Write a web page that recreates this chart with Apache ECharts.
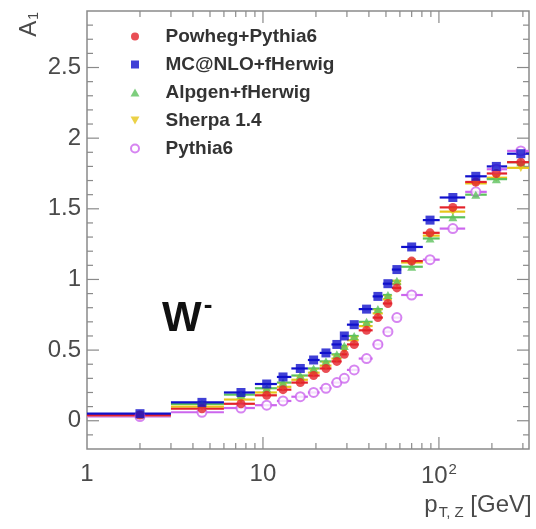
<!DOCTYPE html>
<html><head><meta charset="utf-8">
<script src="https://cdn.jsdelivr.net/npm/echarts@6/dist/echarts.min.js"></script>
<style>html,body{margin:0;padding:0;background:#fff}#c{width:536px;height:529px}</style>
</head><body><div id="c"></div>
<script>
// bins in pT [GeV]
const binLo     = [1, 3, 6, 9, 12, 14.5, 18, 21, 24.5, 28, 30, 35, 42, 48, 54, 61, 81, 101, 141, 187, 244];
const binHi     = [3, 6, 9, 12, 14.5, 18, 21, 24.5, 28, 30, 35, 42, 48, 54, 61, 81, 101, 141, 187, 244, 340];
const binCenter = [2, 4.5, 7.5, 10.5, 13, 16.3, 19.4, 22.8, 26.3, 29, 33, 38.8, 45, 51.3, 57.7, 70, 89, 120, 162, 212, 292];

// A1 values per generator
const powheg = [0.04, 0.085, 0.12, 0.18, 0.22, 0.27, 0.32, 0.37, 0.42, 0.47, 0.54, 0.64, 0.73, 0.83, 0.94, 1.13, 1.33, 1.51, 1.69, 1.75, 1.83];
const mcnlo  = [0.05, 0.13, 0.20, 0.26, 0.31, 0.37, 0.43, 0.48, 0.54, 0.60, 0.68, 0.79, 0.88, 0.97, 1.07, 1.23, 1.42, 1.58, 1.73, 1.80, 1.89];
const alpgen = [0.045, 0.12, 0.185, 0.23, 0.27, 0.32, 0.37, 0.42, 0.47, 0.53, 0.60, 0.70, 0.79, 0.89, 0.99, 1.09, 1.29, 1.44, 1.60, 1.71, 1.83];
const sherpa = [0.04, 0.10, 0.15, 0.20, 0.24, 0.29, 0.34, 0.39, 0.44, 0.50, 0.57, 0.67, 0.76, 0.86, 0.97, 1.12, 1.31, 1.48, 1.68, 1.72, 1.79];
const pythia = [0.03, 0.06, 0.09, 0.11, 0.14, 0.17, 0.20, 0.23, 0.27, 0.30, 0.36, 0.44, 0.54, 0.63, 0.73, 0.89, 1.14, 1.36, 1.62, 1.78, 1.91];

const seriesNames = ['Powheg+Pythia6', 'MC@NLO+fHerwig', 'Alpgen+fHerwig', 'Sherpa 1.4', 'Pythia6'];

// tick labels / positions
const xLabelValues = [1, 10, 100];
const yLabelValues = [0, 0.5, 1, 1.5, 2, 2.5];
const xMajorTicks = [10, 100];
const xMinorTicks = [2, 3, 4, 5, 6, 7, 8, 9, 20, 30, 40, 50, 60, 70, 80, 90, 200, 300];
const yMajorTicks = [0, 0.5, 1, 1.5, 2, 2.5];
const yMinorTicks = [-0.1, 0.1, 0.2, 0.3, 0.4, 0.6, 0.7, 0.8, 0.9, 1.1, 1.2, 1.3, 1.4, 1.6, 1.7, 1.8, 1.9, 2.1, 2.2, 2.3, 2.4, 2.6, 2.7, 2.8];

const FONT = 'Liberation Sans, Arial, sans-serif';
const styles = {
  'Powheg+Pythia6': {color: '#e3222b', symbol: 'circle', size: 9},
  'MC@NLO+fHerwig': {color: '#1010cc', symbol: 'path://M0,0 L10,0 L10,10 L0,10 Z', size: 9},
  'Alpgen+fHerwig': {color: '#5cc25c', symbol: 'path://M5,0 L10,9 L0,9 Z', size: 9},
  'Sherpa 1.4':     {color: '#e6c619', symbol: 'path://M0,0 L10,0 L5,9 Z', size: 9},
  'Pythia6':        {color: '#cc66ee', symbol: 'emptyCircle', size: 9}
};
const valuesByName = {
  'Powheg+Pythia6': powheg, 'MC@NLO+fHerwig': mcnlo, 'Alpgen+fHerwig': alpgen,
  'Sherpa 1.4': sherpa, 'Pythia6': pythia
};
// draw order (last on top)
const drawOrder = ['Pythia6', 'Sherpa 1.4', 'Alpgen+fHerwig', 'Powheg+Pythia6', 'MC@NLO+fHerwig'];

const series = [];
drawOrder.forEach((name, k) => {
  const st = styles[name];
  const vals = valuesByName[name];
  series.push({
    type: 'custom', name: name + ' bins', silent: true, clip: true, z: 2 + k,
    data: vals.map((v, i) => [binLo[i], binHi[i], v]),
    encode: {x: [0, 1], y: 2},
    renderItem: (params, api) => {
      const y = api.value(2);
      const p1 = api.coord([api.value(0), y]);
      const p2 = api.coord([api.value(1), y]);
      return {type: 'line', shape: {x1: p1[0], y1: p1[1], x2: p2[0], y2: p2[1]},
              style: {stroke: st.color, lineWidth: 2.2}};
    }
  });
  series.push({
    type: 'scatter', name: name, z: 10 + k,
    symbol: st.symbol, symbolSize: st.size, symbolKeepAspect: true,
    itemStyle: name === 'Pythia6' ? {color: st.color, borderColor: st.color, borderWidth: 1.3} : {color: st.color},
    data: vals.map((v, i) => [binCenter[i], v])
  });
});

// frame ticks (ROOT style, inside, on all four sides)
const tickData = [];
xMajorTicks.forEach(v => tickData.push([v, 0, 0]));
xMinorTicks.forEach(v => tickData.push([v, 0, 1]));
yMajorTicks.forEach(v => tickData.push([1, v, 2]));
yMinorTicks.forEach(v => tickData.push([1, v, 3]));
series.push({
  type: 'custom', name: 'ticks', silent: true, z: 1,
  data: tickData,
  encode: {x: 0, y: 1},
  renderItem: (params, api) => {
    const cs = params.coordSys;
    const kind = api.value(2);
    const st = {stroke: '#8a8a8a', lineWidth: 1.2};
    if (kind < 2) {
      const px = api.coord([api.value(0), 0])[0];
      const len = kind === 0 ? 12 : 6;
      return {type: 'group', children: [
        {type: 'line', shape: {x1: px, y1: cs.y + cs.height, x2: px, y2: cs.y + cs.height - len}, style: st},
        {type: 'line', shape: {x1: px, y1: cs.y, x2: px, y2: cs.y + len}, style: st}
      ]};
    } else {
      const py = api.coord([1, api.value(1)])[1];
      const len = kind === 2 ? 12 : 6;
      return {type: 'group', children: [
        {type: 'line', shape: {x1: cs.x, y1: py, x2: cs.x + len, y2: py}, style: st},
        {type: 'line', shape: {x1: cs.x + cs.width, y1: py, x2: cs.x + cs.width - len, y2: py}, style: st}
      ]};
    }
  }
});

const chart = echarts.init(document.getElementById('c'), null, {renderer: 'canvas'});
chart.setOption({
  animation: false,
  backgroundColor: '#ffffff',
  textStyle: {fontFamily: FONT},
  grid: {left: 87, right: 7, top: 11, bottom: 80, containLabel: false, outerBoundsMode: 'none',
         show: true, borderColor: '#8a8a8a', borderWidth: 1.5, backgroundColor: 'transparent'},
  legend: {
    orient: 'vertical', left: 125, top: 22,
    itemWidth: 9, itemHeight: 8, itemGap: 9,
    data: seriesNames,
    textStyle: {fontFamily: FONT, fontSize: 19, fontWeight: 'bold', color: '#333', padding: [0, 0, 0, 21]},
    selectedMode: false
  },
  xAxis: {
    type: 'log', logBase: 10, min: 1, max: 325,
    axisLine: {show: false}, axisTick: {show: false}, splitLine: {show: false}, minorTick: {show: false},
    axisLabel: {
      customValues: xLabelValues, margin: 13, color: '#4a4a4a', fontSize: 24, fontFamily: FONT,
      formatter: v => { const r = Math.round(v); return r === 100 ? '{n|10}{s|2}' : '{n|' + r + '}'; },
      rich: {n: {fontSize: 24, fontFamily: FONT, color: '#4a4a4a'},
             s: {fontSize: 15, fontFamily: FONT, color: '#4a4a4a', padding: [0, 0, 14, 1]}}
    },
    name: '{n|p}{s|T, Z}{n| [GeV]}',
    nameLocation: 'middle', nameGap: 42, nameMoveOverlap: false,
    nameTextStyle: {
      padding: [0, 0, 0, 340],
      rich: {n: {fontSize: 24, fontFamily: FONT, color: '#4a4a4a'},
             s: {fontSize: 15, fontFamily: FONT, color: '#4a4a4a', padding: [14, 0, 0, 1]}}
    }
  },
  yAxis: {
    type: 'value', min: -0.2, max: 2.9,
    axisLine: {show: false}, axisTick: {show: false}, splitLine: {show: false},
    axisLabel: {customValues: yLabelValues, margin: 6, color: '#4a4a4a', fontSize: 24, fontFamily: FONT},
    name: '{n|A}{s|1}',
    nameLocation: 'end', nameRotate: 90, nameGap: -1, nameMoveOverlap: false,
    nameTextStyle: {
      align: 'right', verticalAlign: 'bottom', padding: [0, 0, 46, 0],
      rich: {n: {fontSize: 24, fontFamily: FONT, color: '#4a4a4a'},
             s: {fontSize: 14, fontFamily: FONT, color: '#4a4a4a', padding: [10, 0, 0, 1]}}
    }
  },
  graphic: [{
    type: 'text', left: 162, top: 293, z: 20,
    style: {
      text: '{w|W}{m|-}',
      rich: {w: {fontSize: 42, fontWeight: 'bold', fontFamily: FONT, fill: '#111'},
             m: {fontSize: 26, fontWeight: 'bold', fontFamily: FONT, fill: '#111', padding: [0, 0, 26, 2]}}
    }
  }],
  series: series
});
</script></body></html>
